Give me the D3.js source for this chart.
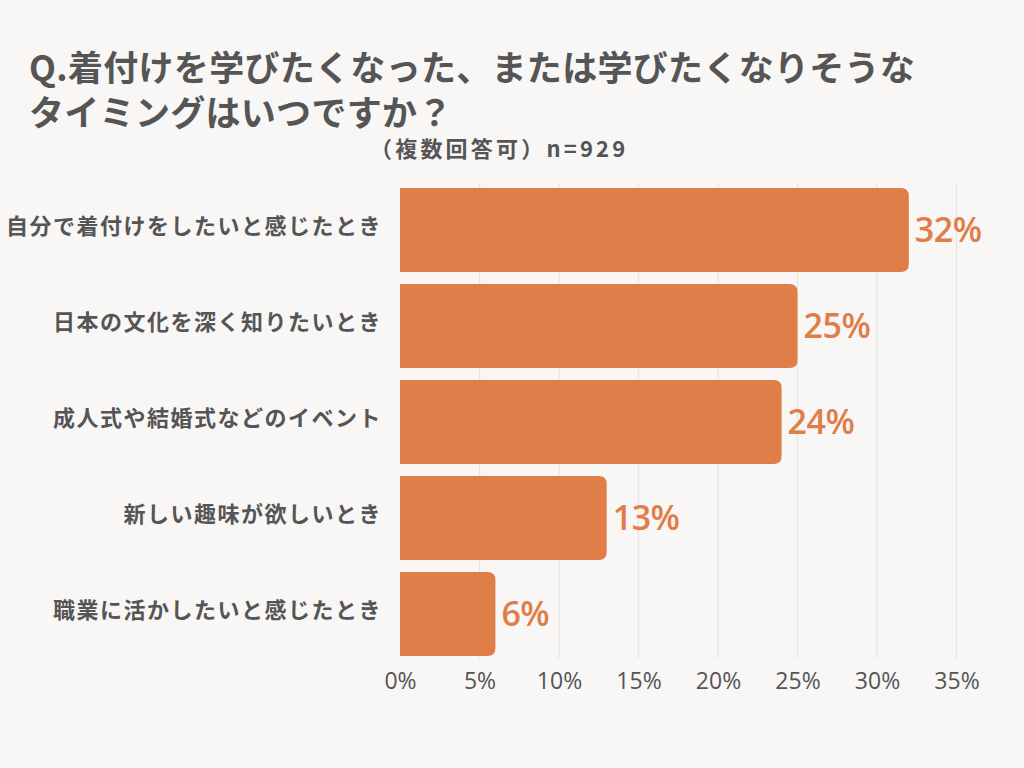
<!DOCTYPE html>
<html><head><meta charset="utf-8">
<script src="https://cdn.jsdelivr.net/npm/d3@7"></script>
<style>
html,body{margin:0;padding:0;background:#f8f7f5;}
svg{display:block;}
</style></head>
<body>
<script>
const categories = ["自分で着付けをしたいと感じたとき","日本の文化を深く知りたいとき","成人式や結婚式などのイベント","新しい趣味が欲しいとき","職業に活かしたいと感じたとき"];
const values = [32, 25, 24, 13, 6];
const tickValues = [0, 5, 10, 15, 20, 25, 30, 35];
const titleLines = ["Q.着付けを学びたくなった、または学びたくなりそうな","タイミングはいつですか？"];
const subtitle = "（複数回答可）n=929";

const W = 1024, H = 768;
const svg = d3.select("body").append("svg").attr("width", W).attr("height", H);
svg.append("rect").attr("width", W).attr("height", H).attr("fill", "#f8f7f5");

const jp = "'Noto Sans CJK JP', 'Noto Sans', sans-serif";
const textColor = "#555555";
const barColor = "#e07e4a";

const x = d3.scaleLinear().domain([0, 35]).range([400, 956.5]);
const y = d3.scaleBand().domain(categories).range([182, 662]).paddingInner(0.125).paddingOuter(0.0625);

// gridlines
svg.append("g").selectAll("line").data(tickValues.slice(1)).join("line")
  .attr("x1", d => x(d)).attr("x2", d => x(d))
  .attr("y1", 183).attr("y2", 658)
  .attr("stroke", "#e6e5e2").attr("stroke-width", 1.2);

// bars with rounded right corners
const r = 8;
svg.append("g").selectAll("path").data(values).join("path")
  .attr("fill", barColor)
  .attr("d", (d, i) => {
    const x0 = x(0), x1 = x(d), y0 = y(categories[i]), h = y.bandwidth();
    return `M${x0},${y0}H${x1 - r}Q${x1},${y0} ${x1},${y0 + r}V${y0 + h - r}Q${x1},${y0 + h} ${x1 - r},${y0 + h}H${x0}Z`;
  });

// value labels
svg.append("g").selectAll("text").data(values).join("text")
  .attr("x", d => x(d) + 6)
  .attr("y", (d, i) => y(categories[i]) + y.bandwidth() / 2 + 3)
  .attr("dominant-baseline", "middle")
  .attr("fill", barColor)
  .attr("font-family", "'Open Sans', Lato, sans-serif")
  .attr("font-weight", 600)
  .attr("font-size", 34)
  .attr("letter-spacing", -0.5)
  .text(d => d + "%");

// category labels
svg.append("g").selectAll("text").data(categories).join("text")
  .attr("x", 382)
  .attr("y", d => y(d) + y.bandwidth() / 2 - 2)
  .attr("text-anchor", "end")
  .attr("dominant-baseline", "middle")
  .attr("fill", textColor)
  .attr("font-family", jp)
  .attr("font-weight", 700)
  .attr("font-size", 22)
  .attr("letter-spacing", 1.5)
  .text(d => d);

// x axis
const xAxis = d3.axisBottom(x).tickValues(tickValues).tickFormat(d => d + "%").tickSize(0).tickPadding(0);
const gx = svg.append("g").attr("transform", "translate(0,673)").call(xAxis);
gx.select(".domain").remove();
gx.selectAll("text")
  .attr("fill", textColor)
  .attr("font-family", "'Open Sans', sans-serif")
  .attr("font-size", 23)
  .attr("dy", "0.71em");

// title (single text element, two lines)
const title = svg.append("text")
  .attr("x", 29)
  .attr("y", 81)
  .attr("fill", textColor)
  .attr("font-family", jp)
  .attr("font-weight", 700)
  .attr("font-size", 35)
  .attr("letter-spacing", 0.3);
title.selectAll("tspan").data(titleLines).join("tspan")
  .attr("x", 29)
  .attr("y", (d, i) => 81 + i * 45)
  .text(d => d);

svg.append("text")
  .attr("x", 370).attr("y", 157)
  .attr("fill", textColor)
  .attr("font-family", jp)
  .attr("font-weight", 700)
  .attr("font-size", 22)
  .attr("letter-spacing", 3.2)
  .text(subtitle);
</script>
</body></html>
